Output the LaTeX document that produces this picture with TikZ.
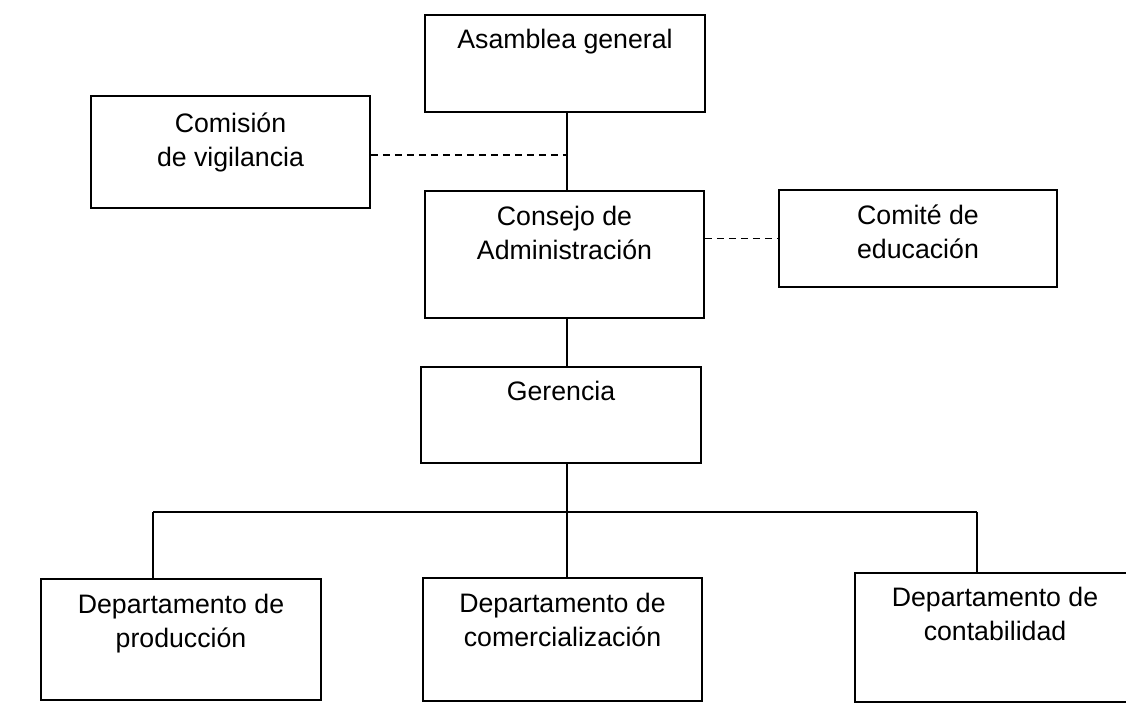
\documentclass[tikz,border=0pt]{standalone}
\usepackage{fontspec}
\setmainfont{Liberation Sans}
\usetikzlibrary{positioning}

\begin{document}
\begin{tikzpicture}[
	x=1pt, y=-1pt,
	Box/.style = {draw, line width=1.6pt, inner sep=0pt},
	Txt/.style = {inner sep=0pt, align=center, font=\fontsize{26.7}{34}\selectfont},
	Link/.style = {line width=1.5pt},
	Dash/.style = {line width=1.3pt, dash pattern=on 7pt off 5pt}
]
\useasboundingbox (0,0) rectangle (1126,703);

\node[Box, minimum width=280pt, minimum height=97pt]  (asamblea)  at (565,63.5)  {};
\node[Box, minimum width=279pt, minimum height=112pt] (comision)  at (230.5,152) {};
\node[Box, minimum width=279pt, minimum height=127pt] (consejo)   at (564.5,254.5) {};
\node[Box, minimum width=278pt, minimum height=97pt]  (comite)    at (918,238.5) {};
\node[Box, minimum width=280pt, minimum height=96pt]  (gerencia)  at (561,415)   {};
\node[Box, minimum width=280pt, minimum height=121pt] (produccion) at (181,639.5) {};
\node[Box, minimum width=279pt, minimum height=123pt] (comercial) at (562.5,639.5) {};
\node[Box, minimum width=280pt, minimum height=129pt] (contab)    at (995,637.5) {};

\node[Txt, below=15pt of asamblea.north]   {Asamblea general};
\node[Txt, below=17pt of comision.north]   {Comisión\\de vigilancia};
\node[Txt, below=16pt of consejo.north]    {Consejo de\\Administración};
\node[Txt, below=15pt of comite.north]     {Comité de\\educación};
\node[Txt, below=15pt of gerencia.north]   {Gerencia};
\node[Txt, below=16pt of produccion.north] {Departamento de\\producción};
\node[Txt, below=16pt of comercial.north]  {Departamento de\\comercialización};
\node[Txt, below=15pt of contab.north]     {Departamento de\\contabilidad};

\coordinate (top)  at (567,112);
\coordinate (mid)  at (567,318);
\coordinate (bus)  at (567,512);
\coordinate (d1)   at (153,512);
\coordinate (d3)   at (977,512);

\draw[Link] (top) -- (top |- consejo.north);
\draw[Dash] (comision.east |- 0,155) -- (top |- 0,155);
\draw[Dash] (comite.west -| consejo.east) -- (comite.west);
\draw[Link] (mid) -- (mid |- gerencia.north);
\draw[Link] (bus |- gerencia.south) -- (bus);
\draw[Link] (d1) -- (d3);
\draw[Link] (d1) -- (d1 |- produccion.north);
\draw[Link] (bus) -- (bus |- comercial.north);
\draw[Link] (d3) -- (d3 |- contab.north);
\end{tikzpicture}
\end{document}
